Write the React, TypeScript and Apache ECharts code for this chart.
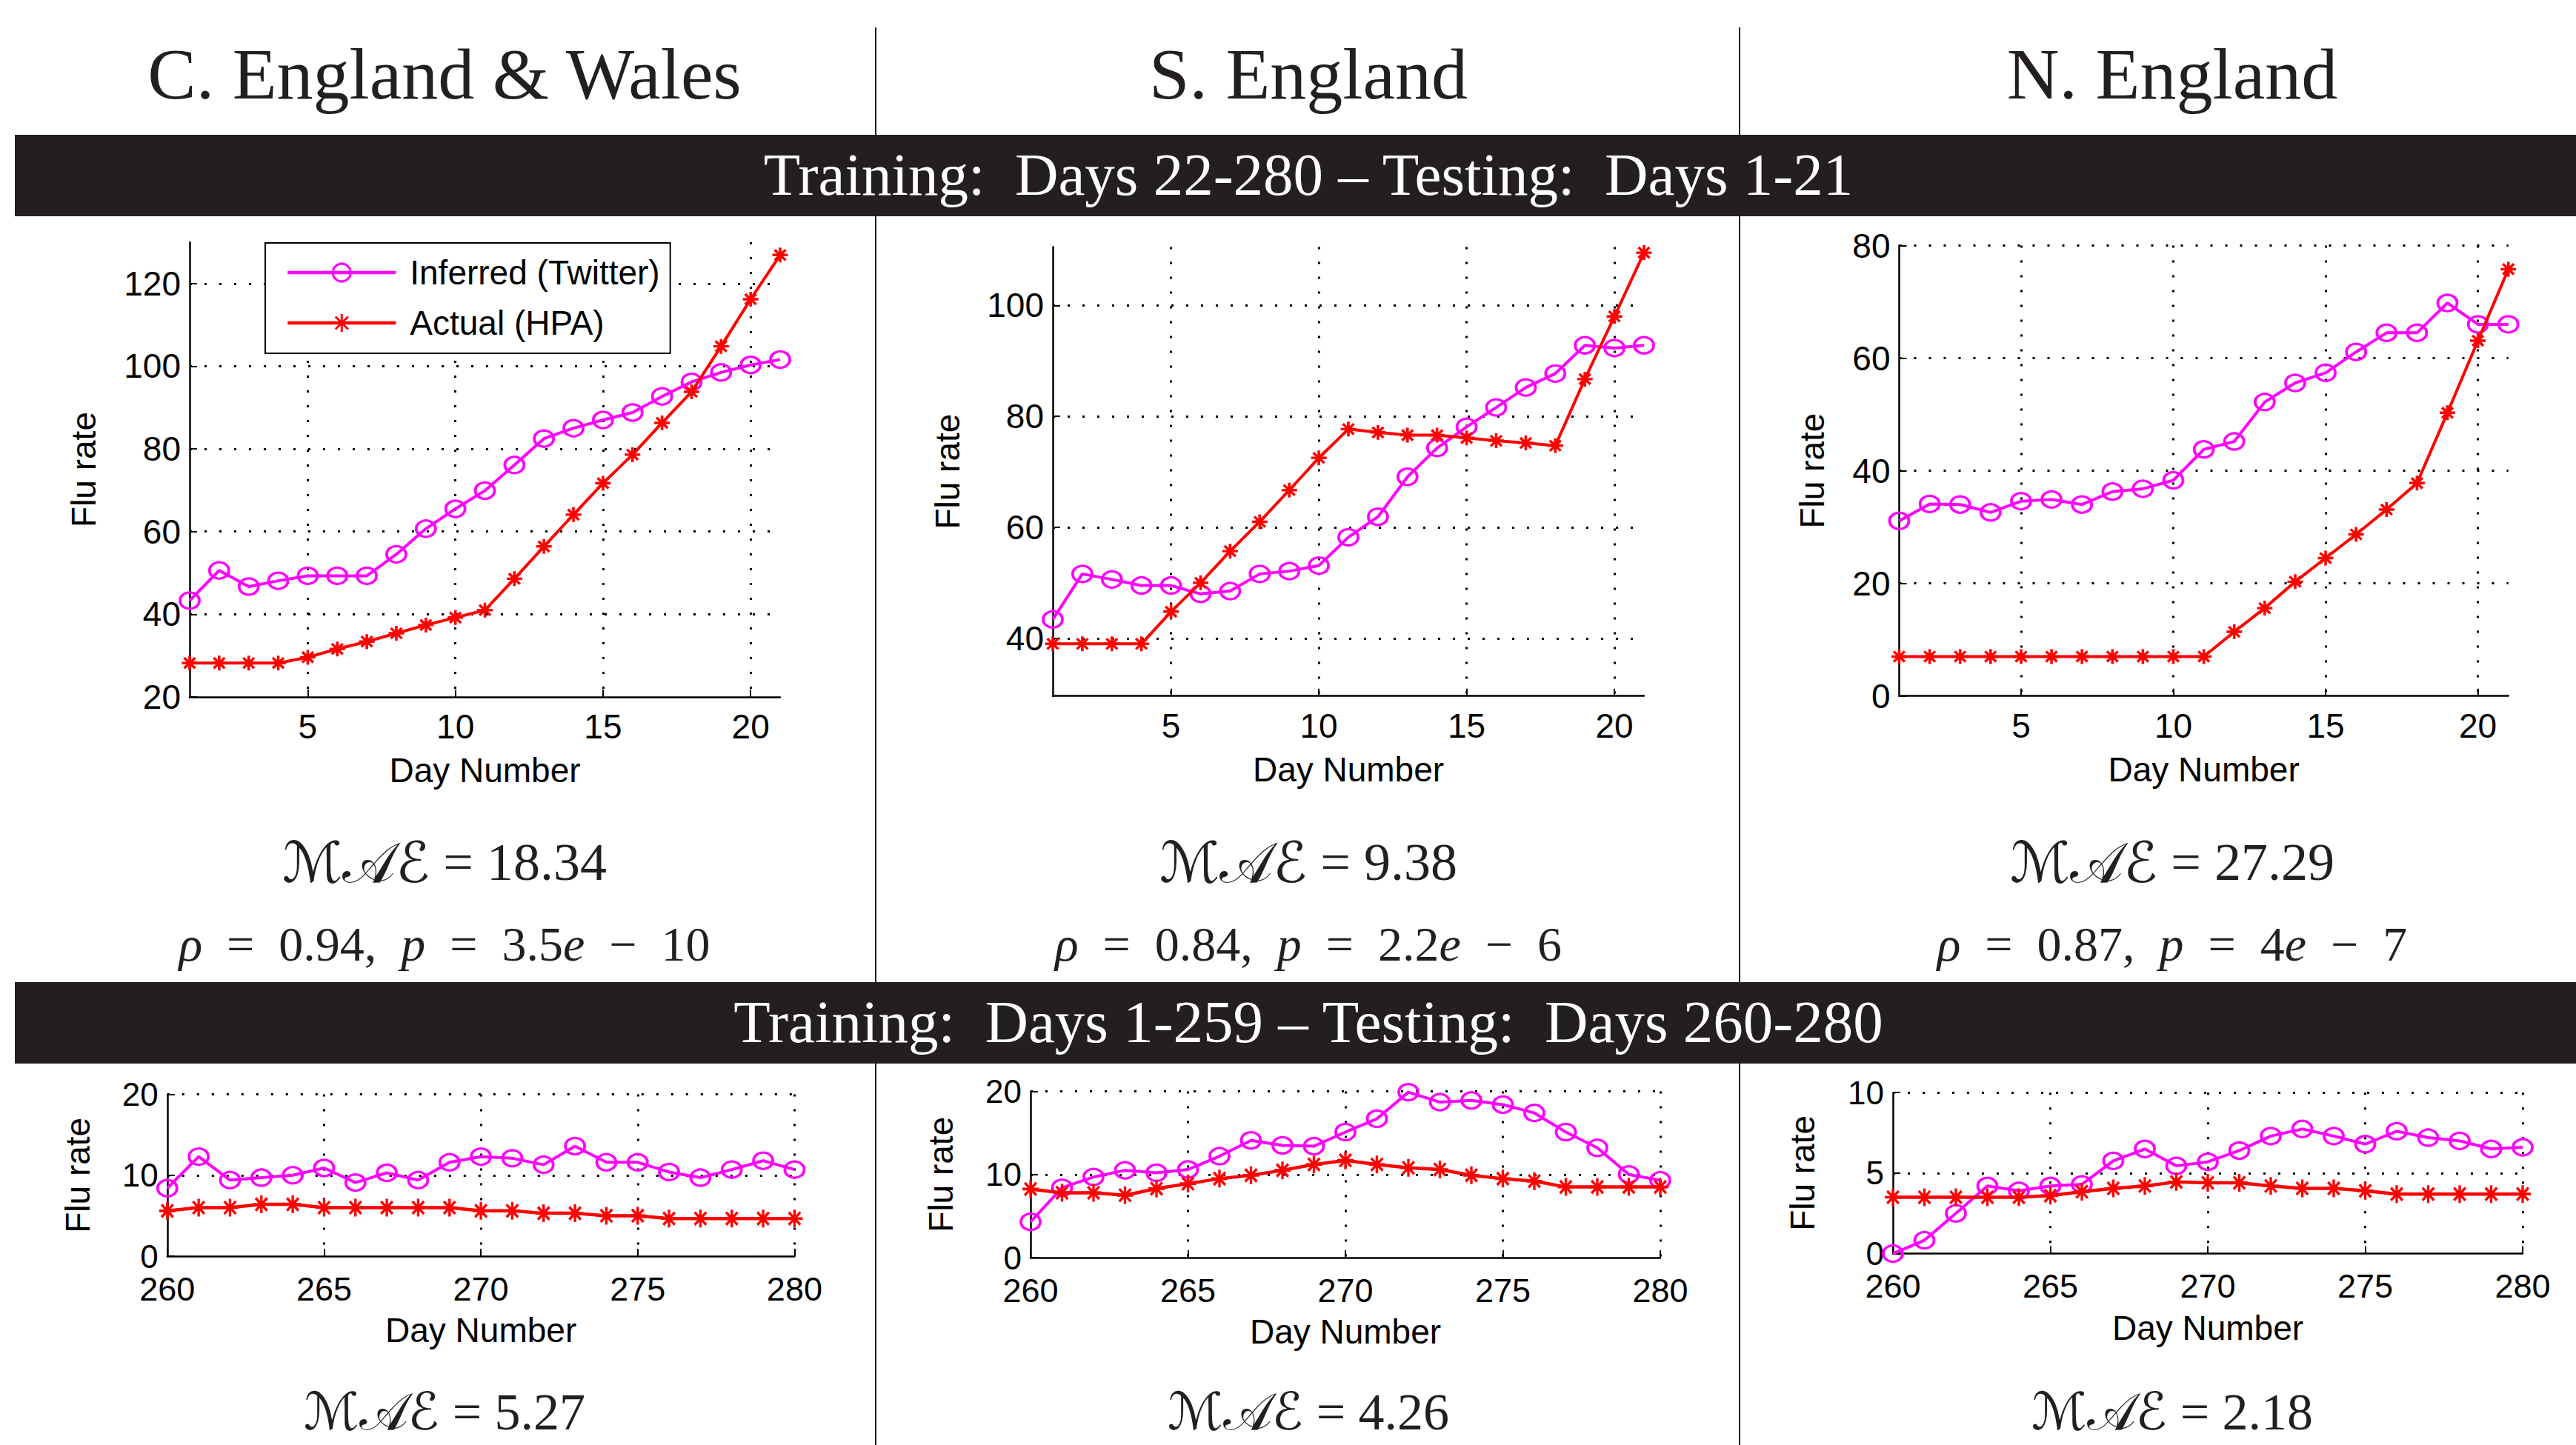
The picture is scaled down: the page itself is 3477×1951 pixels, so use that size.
import React, { useEffect, useRef } from "react";
import * as echarts from "echarts";

// ---------- data ----------
const topDays = [1, 2, 3, 4, 5, 6, 7, 8, 9, 10, 11, 12, 13, 14, 15, 16, 17, 18, 19, 20, 21];
const bottomDays = [260, 261, 262, 263, 264, 265, 266, 267, 268, 269, 270, 271, 272, 273, 274, 275, 276, 277, 278, 279, 280];

const regionTitles = ["C. England & Wales", "S. England", "N. England"];
const seriesNames = ["Inferred (Twitter)", "Actual (HPA)"];
const topBandText = "Training:\u00a0\u00a0Days 22-280 \u2013 Testing:\u00a0\u00a0Days 1-21";
const bottomBandText = "Training:\u00a0\u00a0Days 1-259 \u2013 Testing:\u00a0\u00a0Days 260-280";

// top row (Days 1-21)
const cewInferredTop = [43.3, 50.6, 46.7, 48.1, 49.3, 49.3, 49.3, 54.5, 60.7, 65.5, 69.9, 76.1, 82.5, 85.0, 87.0, 88.8, 92.7, 96.2, 98.5, 100.3, 101.6];
const cewActualTop = [28.2, 28.2, 28.2, 28.2, 29.6, 31.6, 33.4, 35.4, 37.4, 39.2, 41.0, 48.6, 56.4, 64.1, 71.7, 78.6, 86.3, 93.8, 104.8, 116.2, 126.9];
const seInferredTop = [43.4, 51.6, 50.6, 49.5, 49.5, 48.0, 48.5, 51.6, 52.1, 53.1, 58.2, 61.9, 69.1, 74.3, 78.1, 81.6, 85.2, 87.7, 92.8, 92.3, 92.8];
const seActualTop = [39.0, 39.0, 39.0, 39.0, 44.8, 50.0, 55.7, 61.0, 66.7, 72.5, 77.7, 77.1, 76.6, 76.6, 76.1, 75.6, 75.2, 74.7, 86.7, 98.0, 109.5];
const neInferredTop = [31.1, 34.1, 34.0, 32.6, 34.6, 34.9, 34.0, 36.3, 36.8, 38.3, 43.8, 45.2, 52.2, 55.6, 57.4, 61.1, 64.5, 64.5, 69.8, 66.0, 66.0];
const neActualTop = [7.0, 7.0, 7.0, 7.0, 7.0, 7.0, 7.0, 7.0, 7.0, 7.0, 7.0, 11.4, 15.6, 20.3, 24.5, 28.7, 33.1, 37.8, 50.3, 63.1, 75.8];

// bottom row (Days 260-280)
const cewInferredBottom = [8.4, 12.3, 9.4, 9.7, 10.0, 10.9, 9.1, 10.3, 9.4, 11.6, 12.3, 12.1, 11.3, 13.6, 11.6, 11.6, 10.4, 9.7, 10.7, 11.8, 10.7];
const cewActualBottom = [5.6, 6.0, 6.0, 6.4, 6.4, 6.0, 6.0, 6.0, 6.0, 6.0, 5.6, 5.6, 5.3, 5.3, 5.0, 5.0, 4.65, 4.65, 4.65, 4.65, 4.65];
const seInferredBottom = [4.3, 8.4, 9.7, 10.5, 10.2, 10.6, 12.2, 14.1, 13.5, 13.4, 15.1, 16.7, 19.9, 18.7, 18.9, 18.4, 17.4, 15.1, 13.2, 10.0, 9.3];
const seActualBottom = [8.25, 7.8, 7.8, 7.5, 8.3, 8.9, 9.5, 9.9, 10.5, 11.2, 11.7, 11.2, 10.8, 10.6, 9.9, 9.5, 9.2, 8.5, 8.5, 8.5, 8.5];
const neInferredBottom = [0.0, 0.83, 2.5, 4.2, 3.9, 4.2, 4.3, 5.76, 6.5, 5.45, 5.7, 6.4, 7.3, 7.74, 7.3, 6.8, 7.6, 7.2, 7.0, 6.5, 6.6];
const neActualBottom = [3.5, 3.5, 3.5, 3.5, 3.5, 3.6, 3.85, 4.05, 4.2, 4.45, 4.4, 4.4, 4.2, 4.05, 4.05, 3.9, 3.7, 3.7, 3.7, 3.7, 3.7];

// axis ranges / tick steps
const topYMin = [20, 29.6, 0];
const topYMax = [130, 110.5, 80];
const topYStep = [20, 20, 20];
const bottomYMin = [0, 0, 0];
const bottomYMax = [20, 20, 10];
const bottomYStep = [10, 10, 5];
const topXRange = [1, 21];
const bottomXRange = [260, 280];
const xStep = 5;

// statistics
const topMae = ["18.34", "9.38", "27.29"];
const topRho = ["0.94", "0.84", "0.87"];
const topPMantissa = ["3.5", "2.2", "4"];
const topPExponent = ["10", "6", "7"];
const bottomMae = ["5.27", "4.26", "2.18"];

// ---------- style / layout ----------
const W = 3477;
const H = 1951;
const FONT_SANS = "'Liberation Sans', Arial, Helvetica, sans-serif";
const FONT_SERIF = "'Liberation Serif', 'Times New Roman', serif";
const FONT_SCRIPT = "'DejaVu Serif', 'DejaVu Sans', 'Liberation Serif', serif";
const MAGENTA = "#ff00ff";
const RED = "#ff0000";
const INK = "#231f20";
const ASTERISK = "path://M10,0L10,20M0,10L20,10M2.9,2.9L17.1,17.1M2.9,17.1L17.1,2.9";

const grids = [
  { left: 256, top: 327, width: 797, height: 614 },
  { left: 1421, top: 333.6, width: 798, height: 606.1 },
  { left: 2563.5, top: 331.5, width: 822.2, height: 608.2 },
  { left: 225.8, top: 1477.6, width: 846.6, height: 218.4 },
  { left: 1391, top: 1473.5, width: 850, height: 224.5 },
  { left: 2555, top: 1475.2, width: 850, height: 217.4 },
];
const yNameGaps = [120, 119, 95, 98, 98, 99];
const columnCenters = [600, 1766, 2932];

const isMultiple = (v: number, step: number) => Math.abs(v / step - Math.round(v / step)) < 1e-9;
const zip = (xs: number[], ys: number[]) => xs.map((x, i) => [x, ys[i]]);

function makeXAxis(i: number, top: boolean) {
  const range = top ? topXRange : bottomXRange;
  const showMin = isMultiple(range[0], xStep);
  const showMax = isMultiple(range[1], xStep);
  return {
    type: "value",
    gridIndex: i,
    min: range[0],
    max: range[1],
    ...(showMin ? { interval: xStep } : { minInterval: xStep, maxInterval: xStep }),
    name: "Day Number",
    nameLocation: "middle",
    nameGap: top ? 76 : 77,
    nameMoveOverlap: false,
    nameTextStyle: { fontFamily: FONT_SANS, fontSize: 46, lineHeight: 46, color: "#000" },
    axisLine: { show: true, onZero: false, lineStyle: { color: "#000", width: 2.5 } },
    axisTick: { show: true, inside: true, length: 10, lineStyle: { color: "#000", width: 2 } },
    axisLabel: {
      show: true,
      margin: top ? 22 : 26,
      fontFamily: FONT_SANS,
      fontSize: top ? 46 : 45,
      lineHeight: 36,
      color: "#000",
      showMinLabel: showMin,
      showMaxLabel: showMax,
    },
    splitLine: {
      show: true,
      showMinLine: false,
      showMaxLine: showMax,
      lineStyle: { color: "#000", width: 3, type: [3, 17] },
    },
  };
}

function makeYAxis(i: number, min: number, max: number, step: number, top: boolean) {
  const showMin = isMultiple(min, step);
  const showMax = isMultiple(max, step);
  return {
    type: "value",
    gridIndex: i,
    min,
    max,
    ...(showMin ? { interval: step } : { minInterval: step, maxInterval: step }),
    name: "Flu rate",
    nameLocation: "middle",
    nameGap: yNameGaps[i],
    nameMoveOverlap: false,
    nameTextStyle: { fontFamily: FONT_SANS, fontSize: 46, lineHeight: 46, color: "#000" },
    axisLine: { show: true, onZero: false, lineStyle: { color: "#000", width: 2.5 } },
    axisTick: { show: true, inside: true, length: 10, lineStyle: { color: "#000", width: 2 } },
    axisLabel: {
      show: true,
      margin: 12,
      fontFamily: FONT_SANS,
      fontSize: top ? 46 : 44,
      lineHeight: 36,
      color: "#000",
      showMinLabel: showMin,
      showMaxLabel: showMax,
    },
    splitLine: {
      show: true,
      showMinLine: false,
      showMaxLine: showMax,
      lineStyle: { color: "#000", width: 3, type: [3, 17] },
    },
  };
}

function inferredSeries(i: number, days: number[], vals: number[]) {
  return {
    type: "line",
    name: seriesNames[0],
    xAxisIndex: i,
    yAxisIndex: i,
    data: zip(days, vals),
    symbol: "circle",
    symbolSize: [26, 22],
    clip: false,
    silent: true,
    z: 2,
    itemStyle: { color: "rgba(255,255,255,0)", borderColor: MAGENTA, borderWidth: 3.5 },
    lineStyle: { color: MAGENTA, width: 4 },
  };
}

function actualSeries(i: number, days: number[], vals: number[], top: boolean) {
  return {
    type: "line",
    name: seriesNames[1],
    xAxisIndex: i,
    yAxisIndex: i,
    data: zip(days, vals),
    symbol: ASTERISK,
    symbolSize: top ? [21, 20] : [22, 24],
    symbolKeepAspect: false,
    clip: false,
    silent: true,
    z: 3,
    itemStyle: { color: RED, borderColor: RED, borderWidth: 3.5 },
    lineStyle: { color: RED, width: top ? 4 : 4.5 },
  };
}

function centeredText(x: number, y: number, text: string, size: number, fill: string, extra: any = {}) {
  return {
    type: "text",
    x,
    y,
    z: 10,
    style: {
      text,
      fill,
      fontFamily: FONT_SERIF,
      fontSize: size,
      align: "center",
      textAlign: "center",
      verticalAlign: "middle",
      textVerticalAlign: "middle",
      ...extra,
    },
  };
}

const maeRich = (size: number, scriptSize: number) => ({
  s: { fontFamily: FONT_SCRIPT, fontSize: scriptSize, lineHeight: 56, fill: INK },
  n: { fontFamily: FONT_SERIF, fontSize: size, lineHeight: 56, fill: INK },
});
const rhoRich = (size: number) => ({
  i: { fontFamily: FONT_SERIF, fontStyle: "italic", fontSize: size, fill: INK },
});

export default function App() {
  const ref = useRef<HTMLDivElement>(null);

  useEffect(() => {
    if (!ref.current) return;
    const chart = echarts.init(ref.current, null, { renderer: "svg", width: W, height: H });

    const topInferred = [cewInferredTop, seInferredTop, neInferredTop];
    const topActual = [cewActualTop, seActualTop, neActualTop];
    const botInferred = [cewInferredBottom, seInferredBottom, neInferredBottom];
    const botActual = [cewActualBottom, seActualBottom, neActualBottom];

    const xAxis: any[] = [];
    const yAxis: any[] = [];
    const series: any[] = [];
    for (let c = 0; c < 3; c++) {
      xAxis.push(makeXAxis(c, true));
      yAxis.push(makeYAxis(c, topYMin[c], topYMax[c], topYStep[c], true));
      series.push(inferredSeries(c, topDays, topInferred[c]));
      series.push(actualSeries(c, topDays, topActual[c], true));
    }
    for (let c = 0; c < 3; c++) {
      const i = c + 3;
      xAxis.push(makeXAxis(i, false));
      yAxis.push(makeYAxis(i, bottomYMin[c], bottomYMax[c], bottomYStep[c], false));
      series.push(inferredSeries(i, bottomDays, botInferred[c]));
      series.push(actualSeries(i, bottomDays, botActual[c], false));
    }

    const maeText = (v: string) => "{s|\u2133\ud835\udc9c\u2130}{n|\u00a0=\u00a0" + v + "}";

    const graphics: any[] = [
      { type: "line", z: 1, shape: { x1: 1182, y1: 37, x2: 1182, y2: H }, style: { stroke: INK, lineWidth: 2 } },
      { type: "line", z: 1, shape: { x1: 2348, y1: 37, x2: 2348, y2: H }, style: { stroke: INK, lineWidth: 2 } },
      { type: "rect", z: 5, shape: { x: 20, y: 182, width: W - 20, height: 110 }, style: { fill: INK } },
      { type: "rect", z: 5, shape: { x: 20, y: 1326, width: W - 20, height: 110 }, style: { fill: INK } },
      centeredText(1766, 236, topBandText, 81, "#ffffff"),
      centeredText(1766, 1380, bottomBandText, 81, "#ffffff"),
    ];
    for (let c = 0; c < 3; c++) {
      graphics.push(centeredText(columnCenters[c], 100, regionTitles[c], 98, INK));
      graphics.push(
        centeredText(columnCenters[c], 1164, maeText(topMae[c]), 72, INK, { rich: maeRich(72, 76), lineHeight: 56 })
      );
      graphics.push(
        centeredText(
          columnCenters[c],
          1274,
          "{i|\u03c1}\u00a0\u00a0=\u00a0\u00a0" +
            topRho[c] +
            ",\u00a0\u00a0{i|p}\u00a0\u00a0=\u00a0\u00a0" +
            topPMantissa[c] +
            "{i|e}\u00a0\u00a0\u2212\u00a0\u00a0" +
            topPExponent[c],
          66,
          INK,
          { rich: rhoRich(66) }
        )
      );
      graphics.push(
        centeredText(columnCenters[c], 1906, maeText(bottomMae[c]), 70, INK, { rich: maeRich(70, 70), lineHeight: 52 })
      );
    }

    const option: any = {
      animation: false,
      backgroundColor: "#ffffff",
      grid: grids.map((g) => ({ ...g, containLabel: false, outerBoundsMode: "none" })),
      xAxis,
      yAxis,
      series,
      legend: {
        show: true,
        orient: "vertical",
        left: 358,
        top: 328,
        data: seriesNames,
        selectedMode: false,
        itemWidth: 146,
        itemHeight: 30,
        itemGap: 22,
        padding: [17, 14, 18, 28],
        borderColor: "#000",
        borderWidth: 2,
        backgroundColor: "#ffffff",
        z: 6,
        itemStyle: { borderWidth: 3 },
        lineStyle: { width: 4.5 },
        textStyle: { fontFamily: FONT_SANS, fontSize: 46, lineHeight: 46, color: "#000", padding: [0, 0, 0, 14] },
      },
      graphic: { elements: graphics },
    };
    chart.setOption(option);
    return () => chart.dispose();
  }, []);

  return <div ref={ref} style={{ position: "absolute", left: 0, top: 0, width: W, height: H }} />;
}
